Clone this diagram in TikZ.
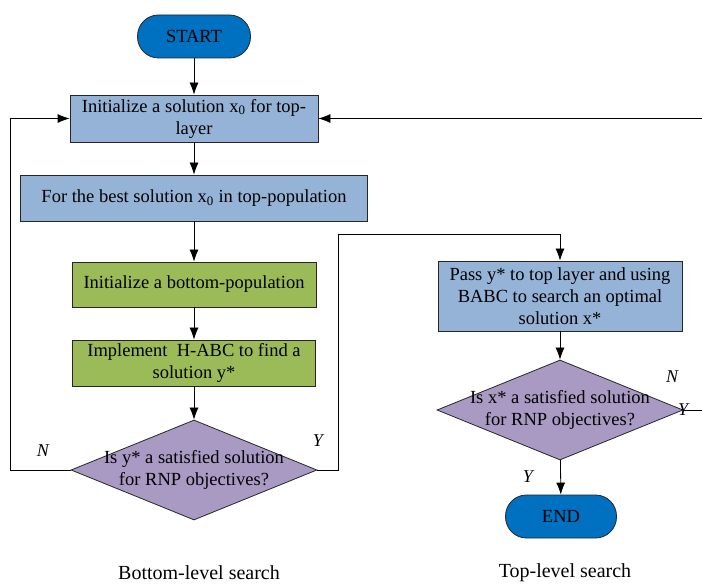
\documentclass[tikz,border=0pt]{standalone}
\usepackage{fontspec}
\setmainfont{Liberation Serif}
\usetikzlibrary{positioning,shapes.geometric,arrows.meta}
\definecolor{termblue}{HTML}{0070C0}
\definecolor{boxblue}{HTML}{95B3D7}
\definecolor{boxgreen}{HTML}{9BBB59}
\definecolor{decpurple}{HTML}{A99AC4}

\begin{document}
\begin{tikzpicture}[
    x=1pt, y=-1pt,
    every node/.style={font=\fontsize{18.5}{22}\selectfont},
    term/.style={draw=black!85, fill=termblue, line width=0.8pt, rounded corners=21pt, minimum width=113pt, minimum height=43pt},
    box/.style={draw=black!85, line width=0.8pt, minimum height=46pt, inner sep=2pt, align=center},
    decision/.style={diamond, draw=black!85, fill=decpurple, line width=0.8pt, minimum width=246pt, minimum height=100pt, inner sep=0pt},
    yn/.style={font=\fontsize{18}{20}\selectfont\itshape},
    arrow/.style={-{Latex[length=12pt,width=9pt]}, line width=0.8pt},
    line/.style={line width=0.8pt}
]
    \useasboundingbox (0,0) rectangle (702,585);
    \clip (0,0) rectangle (702,585);

    % bottom-level search
    \node[term] (start) at (194,36.5) {START};
    \node[box, fill=boxblue, minimum width=248pt, minimum height=47pt] (init) at (194,118.5) {Initialize a solution x\textsubscript{0} for top-\\layer};
    \node[box, fill=boxblue, minimum width=347pt] (best) at (194,198) {For the best solution x\textsubscript{0} in top-population};
    \node[box, fill=boxgreen, minimum width=244pt, minimum height=45pt] (bottom) at (194,284.5) {Initialize a bottom-population};
    \node[box, fill=boxgreen, minimum width=243pt] (impl) at (194,363) {Implement~ H-ABC to find a\\solution y*};
    \node[decision, label={[align=center]center:Is y* a satisfied solution\\for RNP objectives?}] (dec1) at (194,470) {};

    % top-level search
    \node[box, fill=boxblue, minimum width=244pt, minimum height=70pt] (pass) at (560,296) {Pass y* to top layer and using\\BABC to search an optimal\\solution x*};
    \node[decision, label={[align=center]center:Is x* a satisfied solution\\for RNP objectives?}] (dec2) at (560,410) {};
    \node[term, minimum width=111pt] (end) at (561,516.5) {END};

    % branch labels
    \node[yn] (n1) at (43,451) {N};
    \node[yn] (y1) at (318,441) {Y};
    \node[yn] (n2) at (672,377) {N};
    \node[yn] (y2) at (683,410) {Y};
    \node[yn] (y3) at (528,477) {Y};

    % captions
    \node[font=\fontsize{20}{24}\selectfont] (cap1) at (199,573) {Bottom-level search};
    \node[font=\fontsize{20}{24}\selectfont] (cap2) at (565,573) {Top-level search};

    \coordinate (edge) at (710,410);

    \draw[arrow] (start) -- (init);
    \draw[arrow] (init) -- (best);
    \draw[arrow] (best) -- (bottom);
    \draw[arrow] (bottom) -- (impl);
    \draw[arrow] (impl) -- (dec1);
    \draw[arrow] (dec1.west) -- ++(-60,0) |- (init.west);
    \draw[arrow] (dec1.east) -| (338,234) -| (pass.north);
    \draw[arrow] (pass) -- (dec2);
    \draw[arrow] (dec2) -- (end);
    \draw[arrow] (dec2.east) -- (edge) |- (init.east);
\end{tikzpicture}
\end{document}
